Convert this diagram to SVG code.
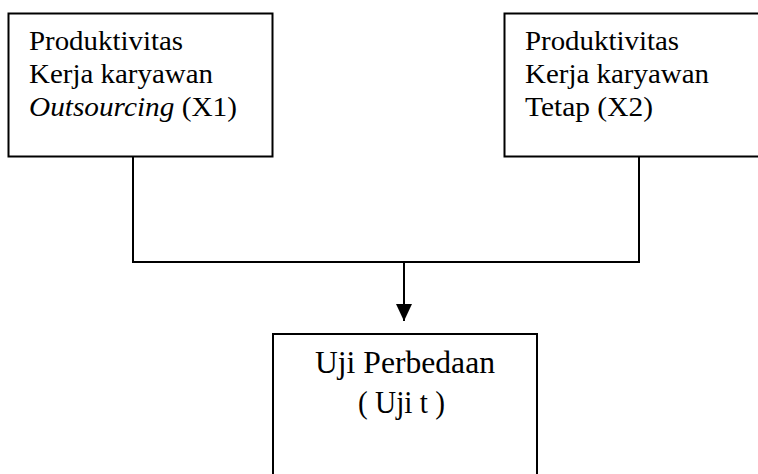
<svg xmlns="http://www.w3.org/2000/svg" width="758" height="474" viewBox="0 0 758 474">
<style>
.box{fill:#fff;stroke:#000;stroke-width:2}
.t{font-family:"Liberation Serif","Times New Roman",serif;font-size:28px;fill:#000}
.tb{font-family:"Liberation Serif","Times New Roman",serif;font-size:31px;fill:#000}
.con{fill:none;stroke:#000;stroke-width:2}
</style>
<defs>
<marker id="ah" viewBox="0 0 17 16" refX="17" refY="8" markerWidth="17" markerHeight="16" markerUnits="userSpaceOnUse" orient="auto">
<path d="M0,0 L17,8 L0,16 z" fill="#000"/>
</marker>
</defs>
<rect width="758" height="474" fill="#fff"/>
<g id="connectors">
<polyline class="con" points="133,157 133,262 639,262 639,157"/>
<line class="con" x1="404" y1="262" x2="404" y2="321" marker-end="url(#ah)"/>
</g>
<g id="x1">
<rect class="box" x="8.5" y="13.5" width="264" height="143"/>
<text class="t" x="29" y="50" textLength="154" lengthAdjust="spacingAndGlyphs">Produktivitas</text>
<text class="t" x="29" y="83" textLength="184" lengthAdjust="spacingAndGlyphs">Kerja karyawan</text>
<text class="t" x="29" y="116" textLength="208" lengthAdjust="spacingAndGlyphs"><tspan font-style="italic">Outsourcing</tspan> (X1)</text>
</g>
<g id="x2">
<rect class="box" x="504.5" y="13.5" width="262" height="143"/>
<text class="t" x="525" y="50" textLength="154" lengthAdjust="spacingAndGlyphs">Produktivitas</text>
<text class="t" x="525" y="83" textLength="184" lengthAdjust="spacingAndGlyphs">Kerja karyawan</text>
<text class="t" x="525" y="116" textLength="128" lengthAdjust="spacingAndGlyphs">Tetap (X2)</text>
</g>
<g id="uji">
<rect class="box" x="273" y="334" width="264" height="150"/>
<text class="tb" x="315" y="373" textLength="180" lengthAdjust="spacingAndGlyphs">Uji Perbedaan</text>
<text class="tb" x="358" y="413" textLength="87" lengthAdjust="spacingAndGlyphs">( Uji t )</text>
</g>
</svg>
